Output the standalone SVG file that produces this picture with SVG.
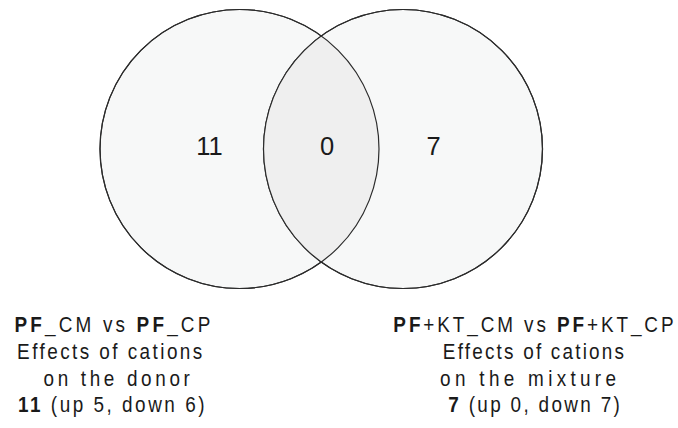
<svg xmlns="http://www.w3.org/2000/svg" width="678" height="428" viewBox="0 0 678 428">
  <style>
    .set { fill: #f7f8f8; stroke: #2b2b2b; stroke-width: 1.2; }
    .overlap { fill: #efefef; stroke: none; }
    .outline { fill: none; stroke: #2b2b2b; stroke-width: 1.2; }
    .num { font-family: "Liberation Sans", Arial, sans-serif; font-size: 25.5px; fill: #1a1a1a; text-anchor: middle; }
    .lbl { font-family: "Liberation Sans", Arial, sans-serif; font-size: 21.5px; fill: #1a1a1a; text-anchor: middle; }
    .b { font-weight: bold; }
  </style>
  <defs>
    <clipPath id="clipLeft">
      <circle cx="239.5" cy="149" r="139.5"/>
    </clipPath>
  </defs>
  <rect width="678" height="428" fill="#ffffff"/>
  <g id="set-left">
    <circle class="set" cx="239.5" cy="149" r="139.5"/>
  </g>
  <g id="set-right">
    <circle class="set" cx="403" cy="149" r="139.5"/>
  </g>
  <g id="overlap">
    <circle class="overlap" cx="403" cy="149" r="139.5" clip-path="url(#clipLeft)"/>
    <circle class="outline" cx="239.5" cy="149" r="139.5"/>
    <circle class="outline" cx="403" cy="149" r="139.5"/>
  </g>
  <g id="counts">
    <text class="num" x="209.5" y="155">11</text>
    <text class="num" x="327" y="155">0</text>
    <text class="num" x="433.7" y="155">7</text>
  </g>
  <g id="label-left">
    <text class="lbl" transform="translate(114,332) scale(0.88,1)" style="letter-spacing:3.6px"><tspan class="b">PF</tspan>_CM vs <tspan class="b">PF</tspan>_CP</text>
    <text class="lbl" transform="translate(110.9,359) scale(0.88,1)" style="letter-spacing:2.77px">Effects of cations</text>
    <text class="lbl" transform="translate(118.5,385.5) scale(0.88,1)" style="letter-spacing:4.15px">on the donor</text>
    <text class="lbl" transform="translate(112.5,412) scale(0.88,1)" style="letter-spacing:2.86px"><tspan class="b">11</tspan> (up 5, down 6)</text>
  </g>
  <g id="label-right">
    <text class="lbl" transform="translate(534.9,332) scale(0.88,1)" style="letter-spacing:3.3px"><tspan class="b">PF</tspan>+KT_CM vs <tspan class="b">PF</tspan>+KT_CP</text>
    <text class="lbl" transform="translate(534.5,359) scale(0.88,1)" style="letter-spacing:2.5px">Effects of cations</text>
    <text class="lbl" transform="translate(530.2,385.5) scale(0.88,1)" style="letter-spacing:4.9px">on the mixture</text>
    <text class="lbl" transform="translate(535.2,412) scale(0.88,1)" style="letter-spacing:2.64px"><tspan class="b">7</tspan> (up 0, down 7)</text>
  </g>
</svg>
